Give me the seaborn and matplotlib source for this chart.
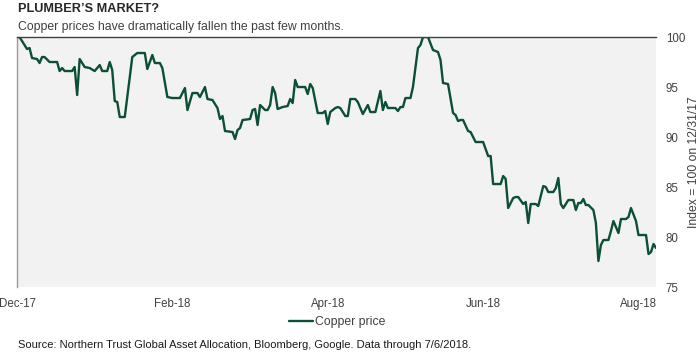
import pandas as pd
import seaborn as sns
import matplotlib.pyplot as plt

# trading session number and copper index (100 = 12/31/17)
session = [0, 1, 3, 4, 5, 6, 8, 9, 10, 11, 13, 16, 17, 18, 19, 22, 23, 24, 25, 26,
           27, 29, 31, 33, 34, 36, 37, 38, 39, 40, 41, 43, 44, 46, 48, 51, 52, 54, 55, 57,
           58, 60, 62, 65, 67, 68, 70, 72, 73, 75, 76, 78, 80, 81, 82, 83, 86, 87, 88, 89,
           90, 93, 94, 95, 96, 97, 99, 100, 101, 102, 103, 104, 106, 108, 109, 110, 111, 112, 115, 116,
           117, 118, 120, 122, 123, 124, 125, 127, 128, 129, 131, 132, 133, 135, 136, 138, 140, 141, 143, 145,
           146, 147, 148, 151, 152, 153, 154, 155, 157, 158, 160, 161, 162, 164, 166, 168, 169, 170, 172, 174,
           175, 176, 177, 178, 180, 181, 183, 186, 188, 189, 190, 193, 194, 195, 196, 198, 199, 200, 202, 203,
           204, 205, 207, 208, 210, 211, 212, 214, 215, 216, 217, 218, 220, 222, 223, 224, 225, 226, 227, 228,
           230, 231, 232, 233, 234, 236, 237, 238, 240, 241, 243, 244, 245, 247, 248, 251, 252, 253, 254, 255]
copper = [100.0, 100.0, 99.2, 98.8, 98.9, 97.9, 97.8, 97.4, 98.0, 98.0, 97.5, 97.5, 96.6, 96.9, 96.6, 96.6, 97.0, 94.2, 97.8, 97.4,
          97.0, 96.9, 96.6, 97.2, 96.6, 96.6, 97.5, 96.7, 93.6, 93.5, 92.0, 92.0, 94.0, 98.0, 98.4, 98.4, 96.8, 98.2, 97.4, 97.4,
          96.9, 94.0, 93.9, 93.9, 94.9, 92.7, 94.4, 94.4, 94.0, 95.0, 93.8, 93.7, 92.9, 91.8, 92.1, 90.6, 90.5, 89.8, 90.7, 90.9,
          91.7, 91.8, 92.7, 92.8, 91.2, 93.2, 92.7, 92.7, 93.2, 95.0, 94.4, 92.8, 93.0, 93.1, 93.8, 93.4, 95.7, 95.0, 95.0, 94.3,
          95.3, 94.9, 92.4, 92.4, 92.6, 91.3, 92.5, 92.9, 93.0, 92.9, 92.1, 92.1, 93.8, 93.8, 93.5, 92.3, 93.2, 92.5, 92.5, 94.6,
          92.7, 93.5, 92.9, 92.9, 92.6, 93.0, 93.0, 93.9, 93.9, 95.0, 98.9, 99.2, 100.0, 100.0, 98.7, 98.5, 97.7, 95.4, 95.3, 92.4,
          92.2, 91.6, 91.7, 91.7, 90.6, 90.5, 89.5, 89.5, 88.1, 88.1, 85.3, 85.3, 86.1, 85.8, 82.9, 83.9, 84.0, 84.0, 83.3, 83.5,
          81.4, 83.3, 83.3, 83.1, 85.1, 85.0, 84.5, 84.5, 84.9, 85.9, 83.3, 82.9, 83.7, 83.7, 82.7, 83.4, 83.4, 83.8, 83.2, 83.2,
          82.7, 81.4, 77.6, 79.2, 79.7, 79.7, 80.6, 81.6, 80.4, 81.8, 81.8, 82.0, 82.9, 81.6, 80.2, 80.2, 78.3, 78.5, 79.3, 78.9]

tick_pos = [0, 62, 124, 186, 248]
tick_labels = ['Dec-17', 'Feb-18', 'Apr-18', 'Jun-18', 'Aug-18']
y_ticks = [75, 80, 85, 90, 95, 100]

df = pd.DataFrame({'session': session, 'copper': copper})

sns.set_style('white')
plt.rcParams['font.family'] = ['Liberation Sans', 'DejaVu Sans']

fig = plt.figure(figsize=(7, 3.55), dpi=100)
ax = fig.add_axes([0.0243, 0.1915, 0.9129, 0.7042])
ax.set_facecolor('#f2f2f2')

sns.lineplot(data=df, x='session', y='copper', color='#0b4f35', linewidth=1.7,
             ax=ax, label='Copper price', legend=False)

ax.set_xlim(0, 255)
ax.set_ylim(75, 100)
ax.set_xticks(tick_pos)
ax.set_xticklabels(tick_labels)
ax.set_yticks(y_ticks)
ax.yaxis.tick_right()
ax.yaxis.set_label_position('right')
ax.tick_params(axis='both', length=0, labelsize=8.3, colors='#404040')
ax.tick_params(axis='y', pad=7)
ax.tick_params(axis='x', pad=8)
ax.set_xlabel('')
ax.set_ylabel('Index = 100 on 12/31/17', fontsize=8.7, color='#404040', labelpad=2)

for s in ['right', 'bottom']:
    ax.spines[s].set_visible(False)
ax.spines['top'].set_color('#404040')
ax.spines['top'].set_linewidth(1)
ax.spines['left'].set_color('#9a9a9a')
ax.spines['left'].set_linewidth(1)

fig.text(0.026, 0.975, "PLUMBER\u2019S MARKET?", fontsize=9.2, fontweight='bold',
         color='#262626', va='center')
fig.text(0.026, 0.925, 'Copper prices have dramatically fallen the past few months.',
         fontsize=8.8, color='#404040', va='center')

h, l = ax.get_legend_handles_labels()
fig.legend(h, l, loc='center', bbox_to_anchor=(0.482, 0.092), frameon=False,
           fontsize=8.8, handlelength=1.9, handletextpad=0.2, labelcolor='#404040')

fig.text(0.026, 0.028, 'Source: Northern Trust Global Asset Allocation, Bloomberg, Google. Data through 7/6/2018.',
         fontsize=8, color='#1a1a1a', va='center')

fig.savefig('out.png', dpi=100)
